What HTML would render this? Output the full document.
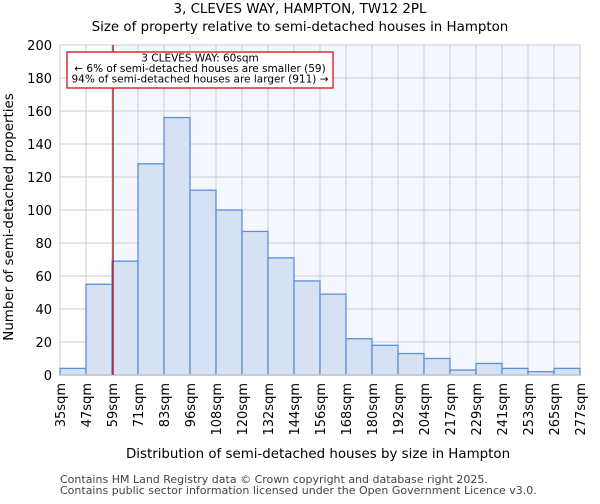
<!DOCTYPE html>
<html><head><meta charset="utf-8"><style>
body{margin:0;background:#fff;font-family:"DejaVu Sans","Liberation Sans",sans-serif;}
</style></head><body>
<svg width="600" height="500" xmlns="http://www.w3.org/2000/svg" font-family="DejaVu Sans, Liberation Sans, sans-serif">
<text x="300" y="13" text-anchor="middle" font-size="13.4">3, CLEVES WAY, HAMPTON, TW12 2PL</text>
<text x="300" y="31" text-anchor="middle" font-size="13.4">Size of property relative to semi-detached houses in Hampton</text>
<g id="plot"></g>
<text x="318" y="458" text-anchor="middle" font-size="13.4">Distribution of semi-detached houses by size in Hampton</text>
<text transform="translate(13,217) rotate(-90)" text-anchor="middle" font-size="13.4">Number of semi-detached properties</text>
<text x="60" y="483" font-size="11" fill="#444">Contains HM Land Registry data © Crown copyright and database right 2025.</text>
<text x="60" y="494" font-size="11" fill="#444">Contains public sector information licensed under the Open Government Licence v3.0.</text>
</svg>
<script>
const categories=["35sqm","47sqm","59sqm","71sqm","83sqm","96sqm","108sqm","120sqm","132sqm","144sqm","156sqm","168sqm","180sqm","192sqm","204sqm","217sqm","229sqm","241sqm","253sqm","265sqm","277sqm"];
const counts=[4,55,69,128,156,112,100,87,71,57,49,22,18,13,10,3,7,4,2,4];
const yTicks=[0,20,40,60,80,100,120,140,160,180,200];
const markerBin=2.04;
const NS="http://www.w3.org/2000/svg";
const g=document.getElementById('plot');
const X0=60,X1=580,Y0=375,Y1=45,YMAX=200;
const bw=(X1-X0)/counts.length;
const xs=i=>X0+i*bw;
const ys=v=>Y0-(v/YMAX)*(Y0-Y1);
function mk(t,a){const e=document.createElementNS(NS,t);for(const k in a)e.setAttribute(k,a[k]);g.appendChild(e);return e;}
let bg=mk('rect',{x:X0,y:Y1,width:X1-X0,height:Y0-Y1,fill:'#f4f7fe'});


let wh=mk('rect',{x:X0,y:Y1,width:xs(markerBin)-X0,height:Y0-Y1,fill:'#fff'});


yTicks.forEach(v=>{
  let l=mk('line',{x1:X0,x2:X1,y1:ys(v),y2:ys(v),stroke:'#cccccc','stroke-width':1});
  
  
  let t=mk('text',{x:X0-8,y:ys(v)+5,'text-anchor':'end','font-size':13});
  t.textContent=v;
  
  
});
categories.forEach((c,i)=>{
  let l=mk('line',{x1:xs(i),x2:xs(i),y1:Y1,y2:Y0,stroke:'#cccccc','stroke-width':1});
  
  
  let t=mk('text',{transform:`translate(${xs(i)+5},${Y0+8}) rotate(-90)`,'text-anchor':'end','font-size':13});
  t.textContent=c;
  
  
});
counts.forEach((v,i)=>{
  let r=mk('rect',{x:xs(i),y:ys(v),width:bw,height:Y0-ys(v),fill:'#d6e2f4',stroke:'#5b8fd6','stroke-width':1.3});
  
  
});
let ax=mk('line',{x1:X0,x2:X1,y1:Y0,y2:Y0,stroke:'#ccc','stroke-width':1.5});


let ml=mk('line',{x1:xs(markerBin),x2:xs(markerBin),y1:Y1,y2:Y0,stroke:'#b00000','stroke-width':1.2});


let box=mk('rect',{x:67,y:52,width:266,height:36,fill:'#fff',stroke:'#cc0000','stroke-width':1.2});


["3 CLEVES WAY: 60sqm","← 6% of semi-detached houses are smaller (59)","94% of semi-detached houses are larger (911) →"].forEach((s,k)=>{
  let t=mk('text',{x:200,y:61.5+k*10.5,'text-anchor':'middle','font-size':10.5});
  t.textContent=s;
  
  
});
</script>
</body></html>
